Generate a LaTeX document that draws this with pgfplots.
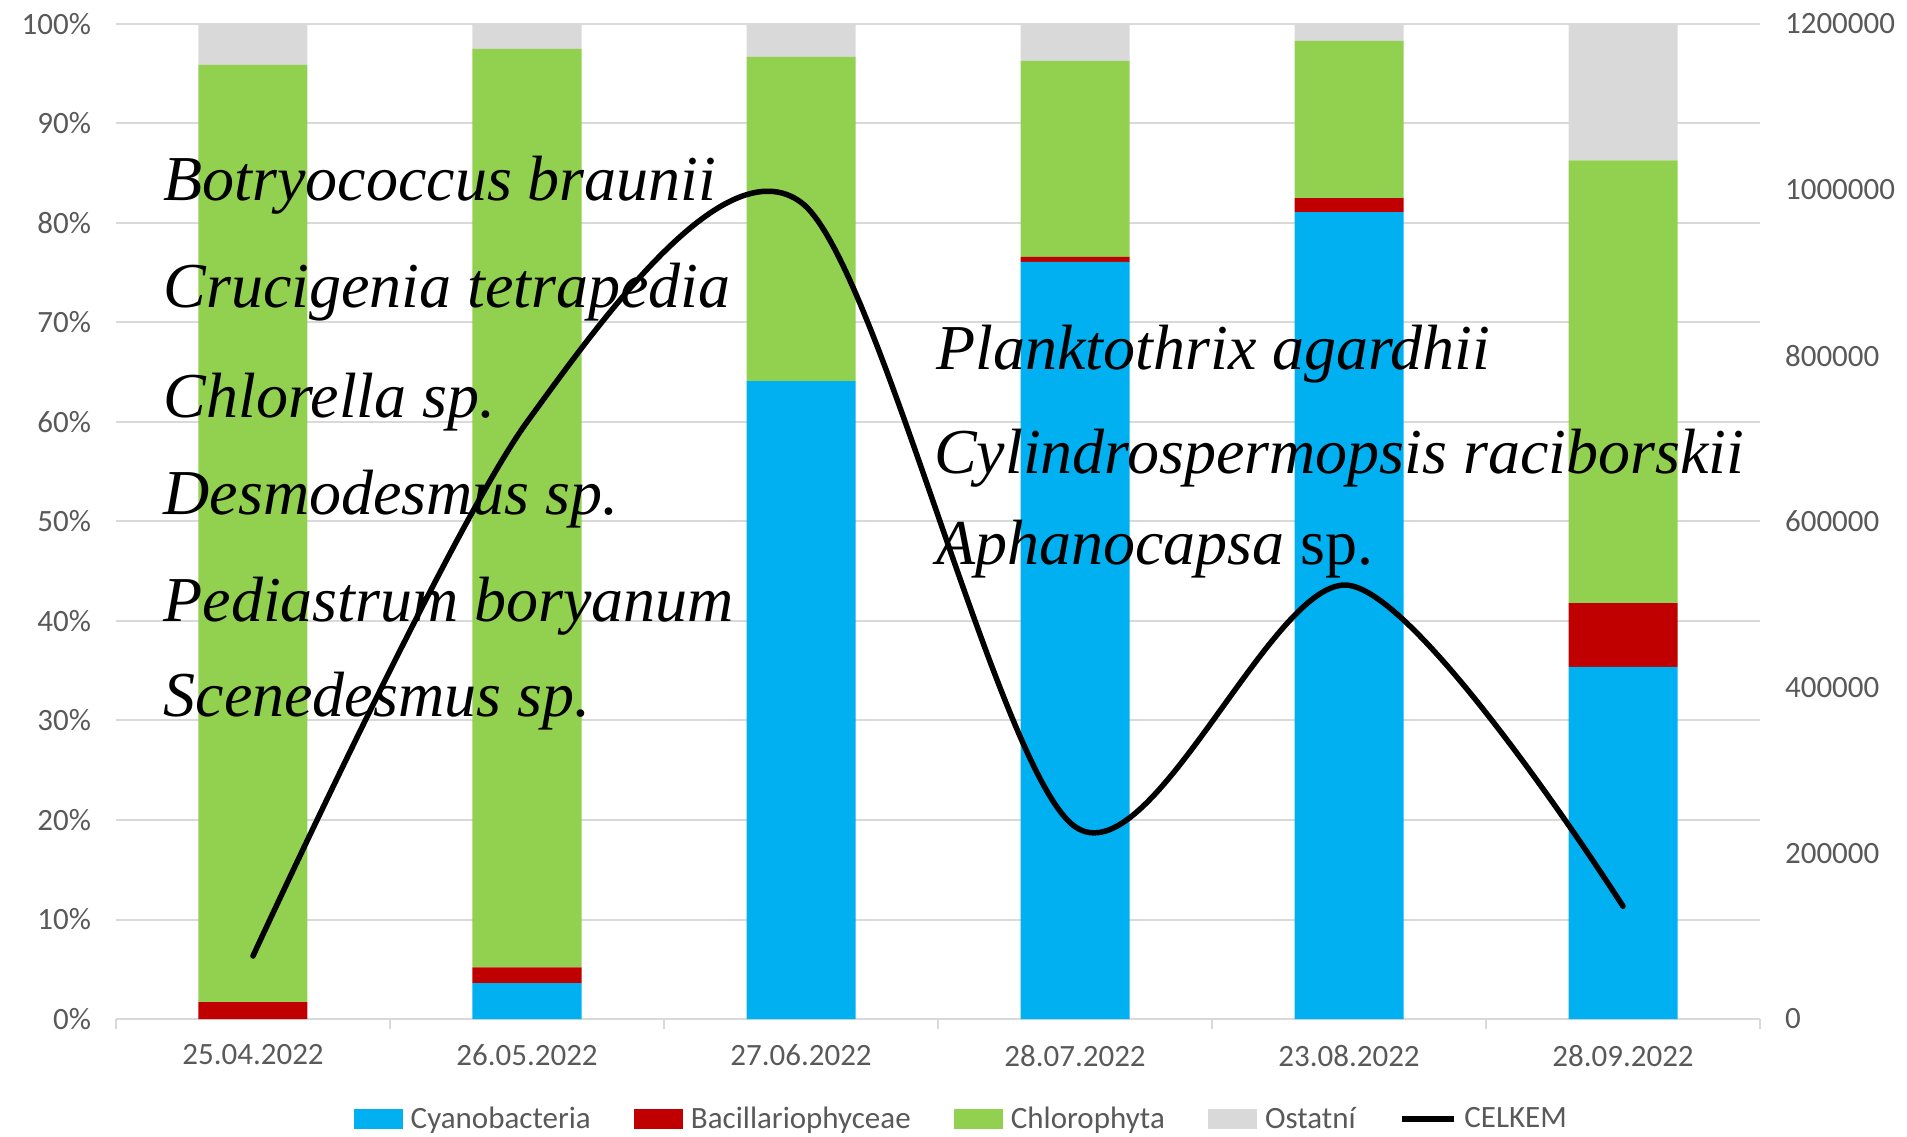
\documentclass[border=0pt]{standalone}
\usepackage{fontspec}
\setmainfont{Carlito}
\newfontfamily\tnr{Liberation Serif}
\usepackage{pgfplots}
\pgfplotsset{compat=1.18}
\definecolor{cyanb}{HTML}{00B0F0}
\definecolor{bacc}{HTML}{C00000}
\definecolor{chlo}{HTML}{92D050}
\definecolor{osta}{HTML}{D9D9D9}
\definecolor{txt}{HTML}{595959}
\definecolor{gridc}{HTML}{D9D9D9}
\newcommand{\tickfont}{\fontsize{15.5}{18}\selectfont}
\newcommand{\spfont}{\tnr\itshape\fontsize{32}{38}\selectfont}
\pgfplotsset{
  boxlegend/.style={legend image code/.code={\fill[##1] (0pt,-5pt) rectangle (24.5pt,5pt);}},
  linelegend/.style={legend image code/.code={\draw[##1] (0pt,0pt) -- (26pt,0pt);}},
}
\begin{document}
\begin{tikzpicture}
\begin{axis}[
  scale only axis, width=822pt, height=497.5pt,
  xmin=-0.5, xmax=5.5, ymin=0, ymax=100,
  ybar stacked, bar width=54.5pt,
  axis x line*=bottom, axis y line*=left,
  y axis line style={draw=none},
  x axis line style={draw=gridc, line width=1pt},
  xtick={0,1,2,3,4,5},
  xticklabels={25.04.2022,26.05.2022,27.06.2022,28.07.2022,23.08.2022,28.09.2022},
  minor xtick={-0.5,0.5,1.5,2.5,3.5,4.5,5.5},
  major tick length=0pt, minor tick length=5pt, tick align=outside,
  minor tick style={draw=gridc, line width=1pt},
  ytick={0,10,20,30,40,50,60,70,80,90,100},
  yticklabels={0\%,10\%,20\%,30\%,40\%,50\%,60\%,70\%,80\%,90\%,100\%},
  ymajorgrids, major grid style={draw=gridc, line width=1pt},
  tick label style={font=\tickfont, text=txt},
  yticklabel style={xshift=-9pt},
  xticklabel style={yshift=-9.4pt},
  legend columns=5,
  legend style={at={(0.516,-0.1005)}, anchor=center, draw=none, fill=none,
    font=\tickfont, text=txt, nodes={inner sep=3.8pt},
    /tikz/every even column/.append style={column sep=18pt}},
  clip=false,
]
\addplot[fill=cyanb, draw=none, boxlegend]
  coordinates {(0,0) (1,3.6) (2,64.1) (3,76.1) (4,81.1) (5,35.4)};
\addlegendentry{Cyanobacteria}
\addplot[fill=bacc, draw=none, boxlegend]
  coordinates {(0,1.7) (1,1.6) (2,0.0) (3,0.5) (4,1.4) (5,6.4)};
\addlegendentry{Bacillariophyceae}
\addplot[fill=chlo, draw=none, boxlegend]
  coordinates {(0,94.2) (1,92.3) (2,32.6) (3,19.7) (4,15.8) (5,44.5)};
\addlegendentry{Chlorophyta}
\addplot[fill=osta, draw=none, boxlegend]
  coordinates {(0,4.1) (1,2.5) (2,3.3) (3,3.7) (4,1.7) (5,13.7)};
\addlegendentry{Ostatní}
\addlegendimage{black, line width=2.75pt, linelegend}
\addlegendentry{CELKEM}
\end{axis}
\begin{axis}[
  scale only axis, width=822pt, height=497.5pt,
  xmin=-0.5, xmax=5.5, ymin=0, ymax=1200000,
  axis x line=none, axis y line*=right,
  y axis line style={draw=none},
  major tick length=0pt,
  ytick={0,200000,400000,600000,800000,1000000,1200000},
  yticklabels={0,200000,400000,600000,800000,1000000,1200000},
  scaled y ticks=false,
  tick label style={font=\tickfont, text=txt},
  yticklabel style={xshift=9pt},
  clip=false,
]
\addplot[black, line width=2.75pt, smooth, tension=0.5, line cap=round, line join=round]
  coordinates {(0,76000) (1,720000) (2,985000) (3,232000) (4,523000) (5,136000)};
\node[anchor=base west, inner sep=0pt, font=\spfont] at (rel axis cs:0.0287,0.823) {Botryococcus braunii};
\node[anchor=base west, inner sep=0pt, font=\spfont] at (rel axis cs:0.0287,0.715) {Crucigenia tetrapedia};
\node[anchor=base west, inner sep=0pt, font=\spfont] at (rel axis cs:0.0287,0.605) {Chlorella sp.};
\node[anchor=base west, inner sep=0pt, font=\spfont] at (rel axis cs:0.0287,0.507) {Desmodesmus sp.};
\node[anchor=base west, inner sep=0pt, font=\spfont] at (rel axis cs:0.0287,0.399) {Pediastrum boryanum};
\node[anchor=base west, inner sep=0pt, font=\spfont] at (rel axis cs:0.0287,0.304) {Scenedesmus sp.};
\node[anchor=base west, inner sep=0pt, font=\spfont] at (rel axis cs:0.4988,0.653) {Planktothrix agardhii};
\node[anchor=base west, inner sep=0pt, font=\spfont] at (rel axis cs:0.4975,0.548) {Cylindrospermopsis raciborskii};
\node[anchor=base west, inner sep=0pt, font=\spfont] at (rel axis cs:0.4988,0.457) {Aphanocapsa {\upshape sp.}};
\end{axis}
\pgfresetboundingbox
\useasboundingbox (-58pt,-58.5pt) rectangle (895.5pt,509.5pt);
\end{tikzpicture}
\end{document}
